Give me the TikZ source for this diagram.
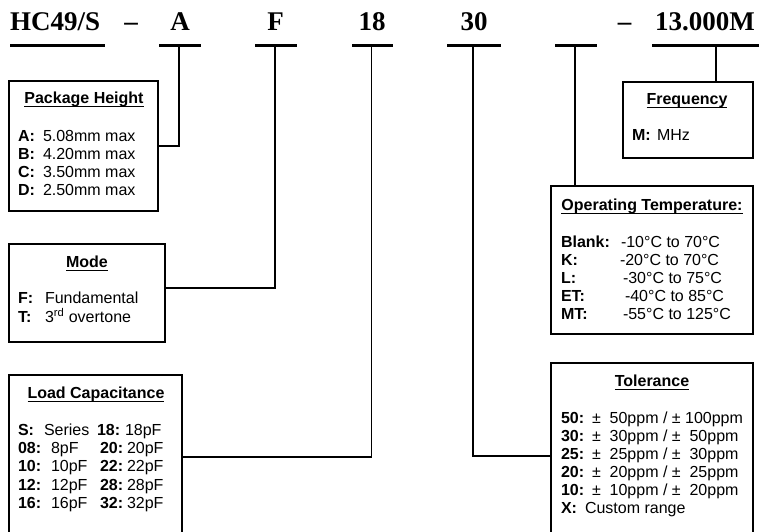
\documentclass[tikz,border=0pt]{standalone}
\usepackage{fontspec}
\setmainfont{Liberation Sans}
\newfontfamily\tnr{Liberation Serif}
\usetikzlibrary{calc}
\newcommand\ulx[1]{\setbox0\hbox{#1}\rlap{\rule[-3.6pt]{\wd0}{1.4pt}}\box0}
\begin{document}
\begin{tikzpicture}[x=1pt,y=-1pt,
  every node/.style={inner sep=0pt,outer sep=0pt},
  code/.style={font=\tnr\bfseries\fontsize{27}{30}\selectfont,anchor=base},
  box/.style={draw,line width=2pt,anchor=north west},
  txt/.style={font=\fontsize{16}{18}\selectfont,anchor=base west},
  lbl/.style={font=\bfseries\fontsize{16}{18}\selectfont,anchor=base west},
  ttl/.style={font=\bfseries\fontsize{16}{18}\selectfont,anchor=base},
  bar/.style={line width=3pt},
  conn/.style={line width=1.8pt}]
\useasboundingbox (0,0) rectangle (768,531);
\clip (0,0) rectangle (768,531);
% code line
\node[code,anchor=base west] (hc) at (10,30) {HC49/S};
\node[code] (d1) at (131,30) {\textendash};
\node[code] (cA) at (180,30) {A};
\node[code] (cF) at (275.5,30) {F};
\node[code] (c18) at (372,30) {18};
\node[code] (c30) at (474,30) {30};
\node[code] (d2) at (624.5,30) {\textendash};
\node[code] (cM) at (705,30) {13.000M};
\draw[bar] (10,45) -- (105,45);
\draw[bar] (159,45) -- (201,45);
\draw[bar] (255,45) -- (297,45);
\draw[bar] (352,45) -- (393,45);
\draw[bar] (447,45) -- (501,45);
\draw[bar] (555,45) -- (597,45);
\draw[bar] (652,45) -- (759,45);
\coordinate (uA) at (179,45);
\coordinate (uF) at (275,45);
\coordinate (u18) at (371.5,45);
\coordinate (u30) at (473,45);
\coordinate (uT) at (575,45);
\coordinate (uM) at (716,45);
% boxes
\node[box,minimum width=149pt,minimum height=130pt] (ph) at (9,81) {};
\node[box,minimum width=156pt,minimum height=98pt] (mode) at (9,244) {};
\node[box,minimum width=173pt,minimum height=190pt] (lc) at (9,375) {};
\node[box,minimum width=130pt,minimum height=76pt] (fr) at (623,82) {};
\node[box,minimum width=202pt,minimum height=148pt] (ot) at (551,186) {};
\node[box,minimum width=202pt,minimum height=190pt] (tol) at (551,363) {};
% connectors
\draw[conn] (uA) |- (ph.east);
\draw[conn] (uF) |- ($(mode.north east)+(0,44)$);
\draw[conn] (u18) |- ($(lc.north east)+(0,82)$);
\draw[conn] (u30) |- ($(tol.north west)+(0,93)$);
\draw[conn] (uT) -- (uT |- ot.north);
\draw[conn] (uM) -- (uM |- fr.north);
% Package Height
\node[ttl] (phT) at (84,103.5) {\ulx{Package Height}};
\node[lbl] (phA) at (18,141) {A:};  \node[txt] (phAv) at (43,141) {5.08mm max};
\node[lbl] (phB) at (18,159) {B:};  \node[txt] (phBv) at (43,159) {4.20mm max};
\node[lbl] (phC) at (18,177) {C:};  \node[txt] (phCv) at (43,177) {3.50mm max};
\node[lbl] (phD) at (18,195) {D:};  \node[txt] (phDv) at (43,195) {2.50mm max};
% Mode
\node[ttl] (mT) at (87,267.5) {\ulx{Mode}};
\node[lbl] (mF) at (18,303.5) {F:}; \node[txt] (mFv) at (45,303.5) {Fundamental};
\node[lbl] (mTT) at (18,322.5) {T:}; \node[txt] (mTv) at (45,322.5) {3\textsuperscript{rd} overtone};
% Load capacitance
\node[ttl] (lcT) at (96,398.5) {\ulx{Load Capacitance}};
\node[lbl] (lS) at (18,435.5) {S:};   \node[txt] (lSv) at (44,435.5) {Series};
\node[lbl] (l08) at (18,453.7) {08:}; \node[txt] (l08v) at (51,453.7) {8pF};
\node[lbl] (l10) at (18,471.9) {10:}; \node[txt] (l10v) at (51,471.9) {10pF};
\node[lbl] (l12) at (18,490.1) {12:}; \node[txt] (l12v) at (51,490.1) {12pF};
\node[lbl] (l16) at (18,508.3) {16:}; \node[txt] (l16v) at (51,508.3) {16pF};
\node[lbl] (l18) at (97,435.5) {18:}; \node[txt] (l18v) at (125,435.5) {18pF};
\node[lbl] (l20) at (100,453.7) {20:}; \node[txt] (l20v) at (127,453.7) {20pF};
\node[lbl] (l22) at (100,471.9) {22:}; \node[txt] (l22v) at (127,471.9) {22pF};
\node[lbl] (l28) at (100,490.1) {28:}; \node[txt] (l28v) at (127,490.1) {28pF};
\node[lbl] (l32) at (100,508.3) {32:}; \node[txt] (l32v) at (127,508.3) {32pF};
% Frequency
\node[ttl] (frT) at (687,104.5) {\ulx{Frequency}};
\node[lbl] (frM) at (632,140.5) {M:}; \node[txt] (frMv) at (657,140.5) {MHz};
% Operating temperature
\node[ttl] (otT) at (652,210.5) {\ulx{Operating Temperature:}};
\node[lbl] (oB) at (561,247.5) {Blank:}; \node[txt] (oBv) at (621,247.5) {-10°C to 70°C};
\node[lbl] (oK) at (561,265.5) {K:};     \node[txt] (oKv) at (620,265.5) {-20°C to 70°C};
\node[lbl] (oL) at (561,283.5) {L:};     \node[txt] (oLv) at (623,283.5) {-30°C to 75°C};
\node[lbl] (oE) at (561,301.5) {ET:};    \node[txt] (oEv) at (625,301.5) {-40°C to 85°C};
\node[lbl] (oM) at (561,319.5) {MT:};    \node[txt] (oMv) at (623,319.5) {-55°C to 125°C};
% Tolerance
\node[ttl] (tT) at (652,386.5) {\ulx{Tolerance}};
\node[lbl] (t50) at (561,423.5) {50:}; \node[txt] (t50v) at (592,423.5) {±\ \ 50ppm / ± 100ppm};
\node[lbl] (t30) at (561,441.5) {30:}; \node[txt] (t30v) at (592,441.5) {±\ \ 30ppm / ±\ \ 50ppm};
\node[lbl] (t25) at (561,459.5) {25:}; \node[txt] (t25v) at (592,459.5) {±\ \ 25ppm / ±\ \ 30ppm};
\node[lbl] (t20) at (561,477.5) {20:}; \node[txt] (t20v) at (592,477.5) {±\ \ 20ppm / ±\ \ 25ppm};
\node[lbl] (t10) at (561,495.5) {10:}; \node[txt] (t10v) at (592,495.5) {±\ \ 10ppm / ±\ \ 20ppm};
\node[lbl] (tX) at (561,513.5) {X:};   \node[txt] (tXv) at (585,513.5) {Custom range};
\end{tikzpicture}
\end{document}
